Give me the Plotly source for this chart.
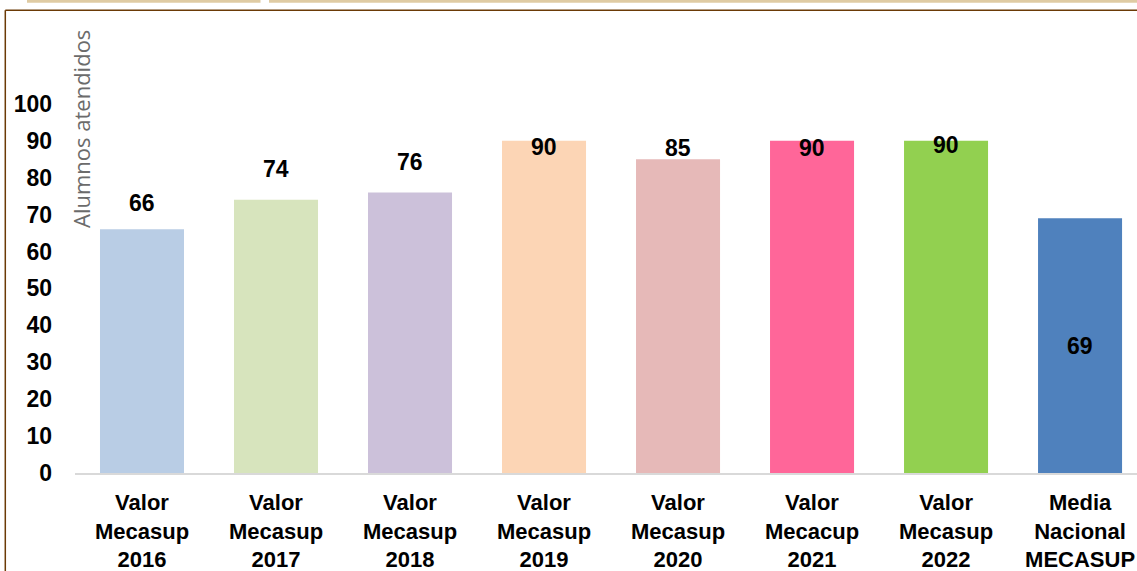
import plotly.graph_objects as go

categories = ["Valor<br>Mecasup<br>2016", "Valor<br>Mecasup<br>2017", "Valor<br>Mecasup<br>2018",
              "Valor<br>Mecasup<br>2019", "Valor<br>Mecasup<br>2020", "Valor<br>Mecacup<br>2021",
              "Valor<br>Mecasup<br>2022", "Media<br>Nacional<br>MECASUP"]
values = [66, 74, 76, 90, 85, 90, 90, 69]
colors = ["#b9cde5", "#d7e4bd", "#ccc1da", "#fcd5b5", "#e6b9b8", "#ff6699", "#92d050", "#4f81bd"]
label_shift = [26, 31, 30, -6, 11, -7, -4, -128]  # px offsets of value labels from bar tops
y_ticks = [0, 10, 20, 30, 40, 50, 60, 70, 80, 90, 100]

W, H = 1137, 571
ML, MR, MT, MB = 75, 0, 40, 98
PW, PH = W - ML - MR, H - MT - MB


def px(x):
    return (x - ML) / PW


def py(y):
    return (H - MB - y) / PH


font_bold = "Arial, Liberation Sans, sans-serif"

fig = go.Figure()
fig.add_trace(go.Bar(x=categories, y=values, marker=dict(color=colors, line=dict(width=0)),
                     hoverinfo="skip", showlegend=False))

for c, v, s in zip(categories, values, label_shift):
    fig.add_annotation(x=c, y=v, xref="x", yref="y", text=f"<b>{v}</b>", showarrow=False,
                       yshift=s, font=dict(family=font_bold, size=23, color="#000000"))

fig.add_annotation(xref="paper", yref="paper", x=px(81), y=py(129), text="Alumnos atendidos",
                   textangle=-90, showarrow=False, xanchor="center", yanchor="middle",
                   font=dict(family="Open Sans, sans-serif", size=22, color="#6b6b6b"))

shapes = [
    dict(type="rect", xref="paper", yref="paper", x0=px(27), x1=px(260.5), y0=py(2.8), y1=py(-1),
         fillcolor="#dfcba3", line=dict(width=0), layer="above"),
    dict(type="rect", xref="paper", yref="paper", x0=px(269), x1=px(1140), y0=py(2.8), y1=py(-1),
         fillcolor="#dfcba3", line=dict(width=0), layer="above"),
    dict(type="line", xref="paper", yref="paper", x0=px(5.3), x1=px(1140), y0=py(10.3), y1=py(10.3),
         line=dict(color="#6b3a06", width=1.5)),
    dict(type="line", xref="paper", yref="paper", x0=px(5.3), x1=px(5.3), y0=py(10.3), y1=py(575),
         line=dict(color="#6b3a06", width=1.5)),
]

fig.update_layout(
    width=W, height=H,
    margin=dict(l=ML, r=MR, t=MT, b=MB, pad=0),
    paper_bgcolor="white", plot_bgcolor="white",
    bargap=0.373,
    shapes=shapes,
    xaxis=dict(range=[-0.5, 7.425], showgrid=False, showline=True, linecolor="#d9d9d9", linewidth=1.5,
               ticks="", ticklabelstandoff=9, zeroline=False,
               tickvals=categories, ticktext=[f"<b>{c}</b>" for c in categories],
               tickfont=dict(family=font_bold, size=22, color="#000000"), tickangle=0),
    yaxis=dict(range=[0, 117.3], tickvals=y_ticks, ticktext=[f"<b>{t}</b>" for t in y_ticks],
               showgrid=False, showline=False, zeroline=False, ticks="", ticklabelstandoff=22,
               tickfont=dict(family=font_bold, size=23, color="#000000")),
)

fig.write_html("out.html", config={"displayModeBar": False},
               post_script="document.body.style.margin='0';document.body.style.overflow='hidden';")
